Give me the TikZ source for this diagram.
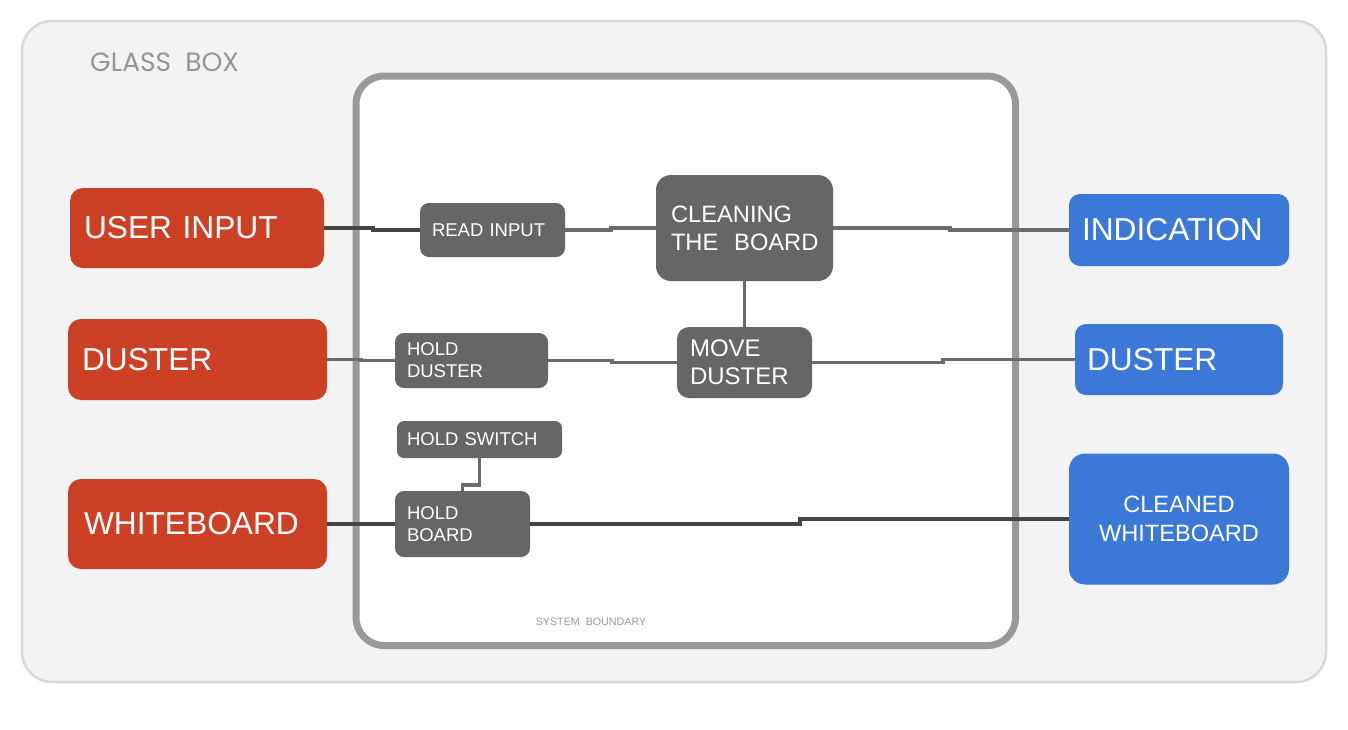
\documentclass[tikz,border=0pt]{standalone}
\usepackage{fontspec}
\setmainfont{Liberation Sans}
\newfontfamily\glassfont{Poppins}
\definecolor{cRed}{HTML}{CC4125}
\definecolor{cBlue}{HTML}{3C78D8}
\definecolor{cGray}{HTML}{666666}
\definecolor{cLine}{HTML}{6B6B6B}
\definecolor{cDark}{HTML}{444444}
\definecolor{cGlass}{HTML}{F3F3F3}
\definecolor{cGlassBorder}{HTML}{D9D9D9}
\definecolor{cBoundary}{HTML}{999999}
\definecolor{cLabel}{HTML}{959595}
\begin{document}
\begin{tikzpicture}[x=1pt,y=-1pt,
  basebox/.style={rectangle, text=white, inner ysep=0pt, align=left},
  redbox/.style={basebox, fill=cRed, rounded corners=13pt},
  bluebox/.style={basebox, fill=cBlue, rounded corners=11pt},
  graybox/.style={basebox, fill=cGray, rounded corners=9pt},
  fbig/.style={font=\fontsize{31.7}{36}\selectfont},
  fmid/.style={font=\fontsize{23.7}{28}\selectfont},
  fsmall/.style={font=\fontsize{18.5}{22}\selectfont},
  conn/.style={draw=cLine, line width=3.5pt},
  conndark/.style={draw=cDark, line width=3.5pt}
]
% canvas
\path[use as bounding box, fill=white] (0,0) rectangle (1348,729);
% glass box
\draw[fill=cGlass, draw=cGlassBorder, line width=2.5pt, rounded corners=30pt] (22,21) rectangle (1326,682);
\node[anchor=west, inner sep=0pt, text=cLabel, font=\glassfont\fontsize{26.5}{30}\selectfont] (glass) at (90,62) {GLASS~~BOX};
% system boundary
\draw[fill=white, draw=cBoundary, line width=7pt, rounded corners=28pt] (356,76) rectangle (1015.5,645.5);
\node[inner sep=0pt, text=cBoundary, font=\fontsize{10.7}{12}\selectfont] (sysb) at (591,622) {SYSTEM~~BOUNDARY};

% left inputs
\node[redbox, fbig, minimum height=80pt, text width=226pt, inner xsep=14pt] (ui) at (197,228) {USER INPUT};
\node[redbox, fbig, minimum height=81pt, text width=231pt, inner xsep=14pt] (dl) at (197.5,359.5) {DUSTER};
\node[redbox, fbig, minimum height=90pt, text width=227pt, inner xsep=16pt] (wb) at (197.5,524) {WHITEBOARD};

% inner processes
\node[graybox, fsmall, minimum height=54pt, text width=121pt, inner xsep=12pt] (ri) at (492.5,230) {READ INPUT};
\node[graybox, fmid, rounded corners=15pt, minimum height=106pt, text width=147pt, inner xsep=15pt] (cb) at (744.5,228) {CLEANING\\THE~~BOARD};
\node[graybox, fsmall, minimum height=55pt, text width=129pt, inner xsep=12pt] (hd) at (471.5,360.5) {HOLD\\DUSTER};
\node[graybox, font=\fontsize{24}{28}\selectfont, rounded corners=12pt, minimum height=71pt, text width=109pt, inner xsep=13pt] (md) at (744.5,362.5) {MOVE\\DUSTER};
\node[graybox, fsmall, rounded corners=7pt, minimum height=37pt, text width=145pt, inner xsep=10pt] (hs) at (479.5,439.5) {HOLD SWITCH};
\node[graybox, font=\fontsize{18.5}{21.5}\selectfont, minimum height=66pt, text width=111pt, inner xsep=12pt] (hb) at (462.5,524) {HOLD\\BOARD};

% right outputs
\node[bluebox, fbig, minimum height=72pt, text width=194pt, inner xsep=13pt] (ind) at (1179,230) {INDICATION};
\node[bluebox, fbig, minimum height=71pt, text width=184pt, inner xsep=12pt] (dr) at (1179,359.5) {DUSTER};
\node[bluebox, font=\fontsize{23.6}{29}\selectfont, align=center, rounded corners=16pt, minimum height=131pt, text width=200pt, inner xsep=10pt] (cw) at (1179,519) {CLEANED\\WHITEBOARD};

% connectors
\draw[conndark] (ui.east) -- ++(49,0) |- (ri.west);
\draw[conn] (ri.east) -- ++(46,0) |- (cb.west);
\draw[conn] (cb.east) -- ++(117,0) |- (ind.west);
\draw[conn] (cb.south) -- (md.north);
\draw[conn] (dl.east) -- ++(34,0) |- (hd.west);
\draw[conn] (hd.east) -- ++(64,0) |- (md.west);
\draw[conn] (md.east) -- ++(131,0) |- (dr.west);
\draw[conn] (hs.south) -- ++(0,27) -| (hb.north);
\draw[conndark] (wb.east) -- (hb.west);
\draw[conndark] (hb.east) -- ++(270,0) |- (cw.west);
\end{tikzpicture}
\end{document}
